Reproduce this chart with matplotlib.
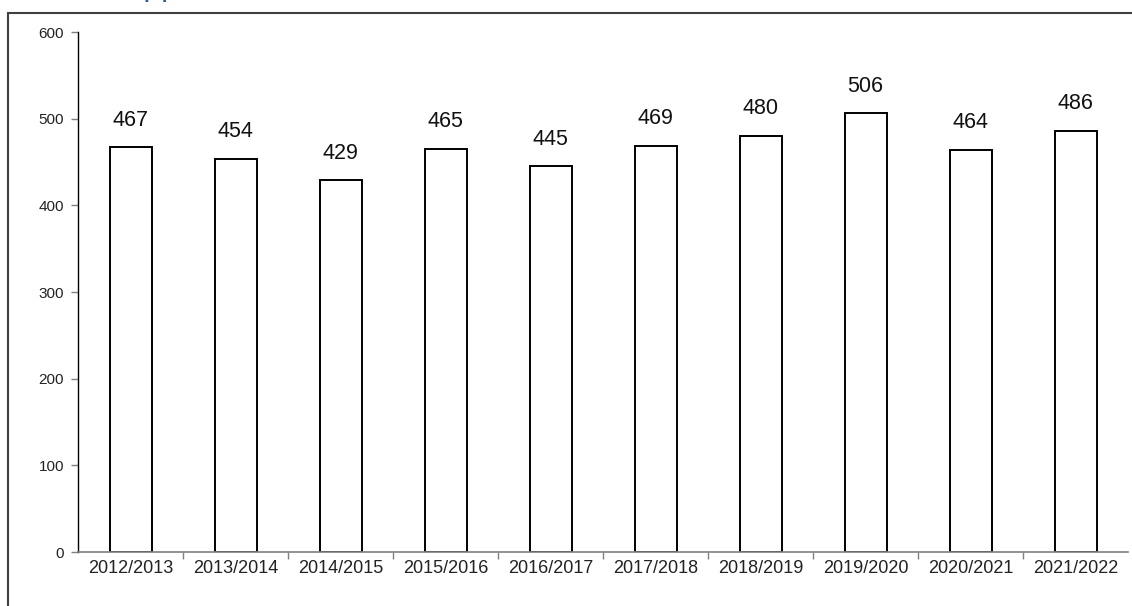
import matplotlib
matplotlib.use("Agg")
import matplotlib.pyplot as plt
from matplotlib.patches import Rectangle

years = ["2012/2013", "2013/2014", "2014/2015", "2015/2016", "2016/2017",
         "2017/2018", "2018/2019", "2019/2020", "2020/2021", "2021/2022"]
values = [467, 454, 429, 465, 445, 469, 480, 506, 464, 486]
yticks = [0, 100, 200, 300, 400, 500, 600]

W, H = 1132, 606
plt.rcParams['font.family'] = ['Liberation Sans', 'DejaVu Sans']
fig = plt.figure(figsize=(W / 100, H / 100), dpi=100)

# outer frame
fig.add_artist(Rectangle((8 / W, 1 - 700 / H), 1200 / W, (700 - 13) / H,
                         transform=fig.transFigure, fill=False,
                         edgecolor='#404040', linewidth=1.5, clip_on=False))
# cut-off title (only descenders visible)
fig.text(123 / W, 1 + 5 / H, "App", color='#2f5da8', fontsize=23,
         va='baseline', ha='left')

ax = fig.add_axes([78 / W, 1 - 552 / H, (1128 - 78) / W, (552 - 32) / H])
x = list(range(len(years)))
bars = ax.bar(x, values, width=0.4, color='white', edgecolor='black', linewidth=1.4)
for xi, v in zip(x, values):
    ax.annotate(str(v), (xi, v), xytext=(0, 12), textcoords='offset points',
                ha='center', va='bottom', fontsize=15.5, color='#111111')

ax.set_xlim(-0.5, len(years) - 0.5)
ax.set_ylim(0, 600)
ax.set_yticks(yticks)
ax.set_yticklabels([str(t) for t in yticks], fontsize=11, color='#222222')
ax.set_xticks(x)
ax.set_xticklabels(years, fontsize=13, color='#222222')
ax.tick_params(axis='x', length=0, pad=6)
ax.set_xticks([i + 0.5 for i in range(len(years) - 1)], minor=True)
ax.tick_params(axis='x', which='minor', length=5, color='#808080', width=1)
ax.tick_params(axis='y', length=5, color='#808080', width=1, pad=5)

for s in ['top', 'right']:
    ax.spines[s].set_visible(False)
ax.spines['left'].set_color('black')
ax.spines['left'].set_linewidth(1.0)
ax.spines['bottom'].set_color('#808080')
ax.spines['bottom'].set_linewidth(1.2)

fig.savefig("out.png", dpi=100)
